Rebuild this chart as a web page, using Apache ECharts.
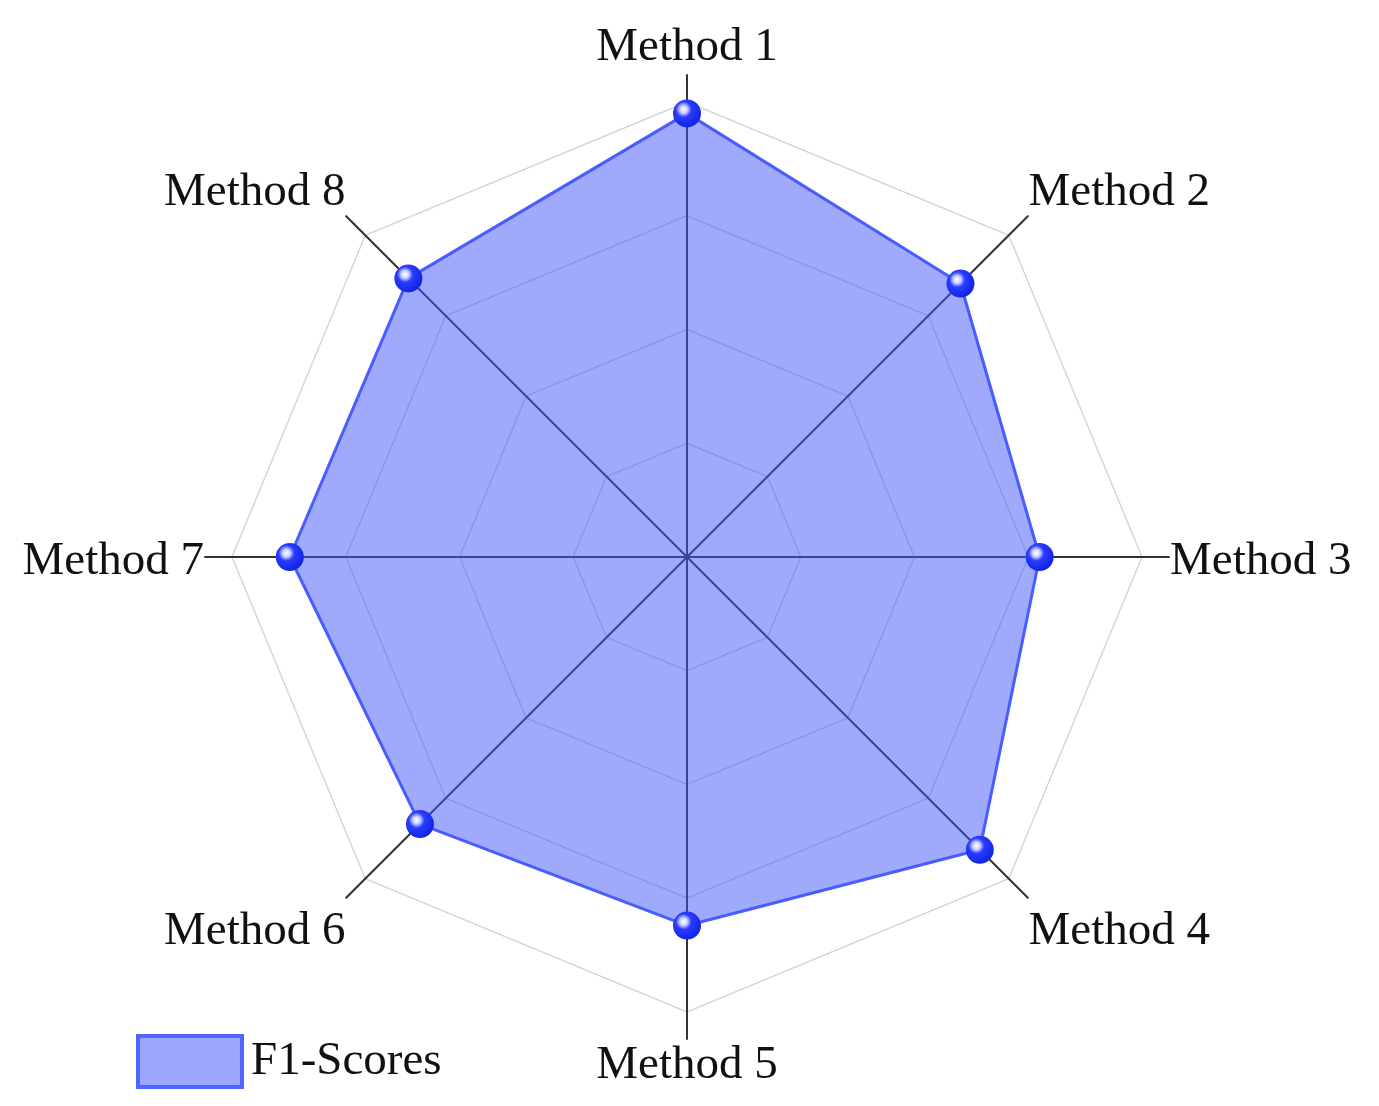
<!DOCTYPE html>
<html>
<head>
<meta charset="utf-8">
<script src="https://cdn.jsdelivr.net/npm/echarts@6/dist/echarts.min.js"></script>
<style>
  html, body { margin: 0; padding: 0; background: #fff; }
  #chart { width: 1379px; height: 1106px; }
</style>
</head>
<body>
<div id="chart"></div>
<script>
// data
const methods = ['Method 1', 'Method 2', 'Method 3', 'Method 4', 'Method 5', 'Method 6', 'Method 7', 'Method 8'];
const f1Scores = [0.975, 0.85, 0.775, 0.91, 0.81, 0.83, 0.873, 0.866];
const seriesName = 'F1-Scores';
const scoreMax = 1;

const chart = echarts.init(document.getElementById('chart'));

// radar lays indicators out counter-clockwise, the figure goes clockwise
const order = [0, 7, 6, 5, 4, 3, 2, 1];
const indicators = order.map(i => ({ name: methods[i], min: 0, max: scoreMax }));
const values = order.map(i => f1Scores[i]);

// side labels nudged: diagonal ones above / below their axis ends
function nameFormatter(name) {
    const i = methods.indexOf(name);
    if (i === 1 || i === 7) return '{up|' + name + '}';
    if (i === 3 || i === 5) return '{down|' + name + '}';
    if (i === 2 || i === 6) return '{mid|' + name + '}';
    return name;
}

const ballColor = {
    type: 'radial', x: 0.38, y: 0.36, r: 0.62,
    colorStops: [
        { offset: 0, color: '#ffffff' },
        { offset: 0.22, color: '#c8d0ff' },
        { offset: 0.45, color: '#2a3cff' },
        { offset: 1, color: '#1326e6' }
    ]
};

const nameFont = { color: '#111', fontFamily: 'Liberation Serif', fontSize: 47 };

const option = {
    backgroundColor: '#fff',
    legend: {
        left: 131,
        top: 1029,
        itemWidth: 104,
        itemHeight: 51,
        icon: 'rect',
        textStyle: { fontFamily: 'Liberation Serif', fontSize: 47, color: '#111', padding: [0, 0, 0, 4] },
        data: [{
            name: seriesName,
            itemStyle: { color: '#9ca7fb', borderColor: '#5064ff', borderWidth: 4 }
        }]
    },
    radar: [
        {
            // grid rings
            center: [687, 557],
            radius: 455,
            startAngle: 90,
            shape: 'polygon',
            splitNumber: 4,
            indicator: indicators,
            axisName: { show: false },
            axisLine: { show: false },
            axisTick: { show: false },
            axisLabel: { show: false },
            splitArea: { show: false },
            splitLine: { lineStyle: { color: '#d6d6d6', width: 1.5 } }
        },
        {
            // spokes reaching past the outer ring, with names
            center: [687, 557],
            radius: 482,
            startAngle: 90,
            shape: 'polygon',
            splitNumber: 4,
            nameGap: 1,
            indicator: indicators,
            axisName: Object.assign({}, nameFont, {
                lineHeight: 52,
                formatter: nameFormatter,
                rich: {
                    up: Object.assign({}, nameFont, { padding: [0, 0, 46, 0] }),
                    down: Object.assign({}, nameFont, { padding: [66, 0, 0, 0] }),
                    mid: Object.assign({}, nameFont, { padding: [10, 0, 0, 0] })
                }
            }),
            axisLine: { lineStyle: { color: '#333', width: 2 } },
            axisTick: { show: false },
            axisLabel: { show: false },
            splitArea: { show: false },
            splitLine: { show: false }
        }
    ],
    series: [{
        type: 'radar',
        name: seriesName,
        radarIndex: 0,
        symbol: 'circle',
        symbolSize: 28,
        itemStyle: { color: ballColor },
        lineStyle: { color: '#4d60ff', width: 3 },
        areaStyle: { color: 'rgb(64,85,250)', opacity: 0.5 },
        data: [{ name: seriesName, value: values }]
    }]
};

chart.setOption(option);
</script>
</body>
</html>
